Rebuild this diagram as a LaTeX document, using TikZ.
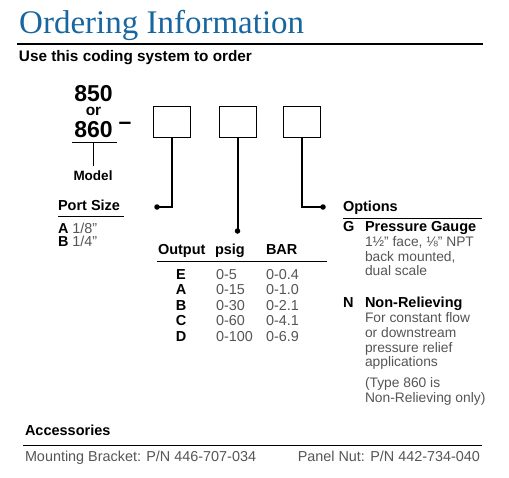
\documentclass[tikz,border=0pt]{standalone}
\usepackage{fontspec}
\setmainfont{Liberation Sans}
\newfontfamily\titlefont{Liberation Serif}
\definecolor{titleblue}{RGB}{24,102,160}
\definecolor{bodygray}{RGB}{85,85,85}
\tikzset{
  txt/.style={anchor=base west, inner sep=0, outer sep=0, text=bodygray, font=\fontsize{14.4}{16}\selectfont},
  opttxt/.style={txt, font=\fontsize{13.8}{15}\selectfont},
  hdr/.style={anchor=base west, inner sep=0, outer sep=0, text=black, font=\bfseries\fontsize{14.5}{16}\selectfont},
  big/.style={anchor=base, inner sep=0, outer sep=0, text=black, font=\bfseries\fontsize{23}{25}\selectfont},
  codebox/.style={draw, line width=1pt, minimum width=37pt, minimum height=31pt, inner sep=0},
  conn/.style={line width=2pt},
  dotc/.style={circle, fill, inner sep=0, minimum size=5.5pt},
  rulel/.style={line width=1pt},
}
\begin{document}
\begin{tikzpicture}[x=1pt,y=-1pt]
\useasboundingbox (0,0) rectangle (509,477);
% title
\node[anchor=base west, inner sep=0, text=titleblue, font=\titlefont\fontsize{33}{36}\selectfont] (title) at (19,33) {Ordering Information};
\coordinate (tl) at (17,44); \coordinate (tr) at (483,44);
\draw[line width=1.5pt] (tl) -- (tr);
\node[hdr, font=\bfseries\fontsize{15.3}{17}\selectfont] (use) at (19,61) {Use this coding system to order};
% model
\node[big] (n850) at (93.5,101) {850};
\node[big, font=\bfseries\fontsize{15.5}{17}\selectfont] (or) at (93.5,115.5) {or};
\node[big] (n860) at (93.5,137) {860};
\node[anchor=base, inner sep=0, font=\bfseries\fontsize{23}{25}\selectfont] (dash) at (125,129) {–};
\coordinate (ul) at (72,142); \coordinate (ur) at (117,142);
\draw[rulel] (ul) -- (ur);
\coordinate (mtop) at (93,142); \coordinate (mbot) at (93,166);
\draw[rulel] (mtop) -- (mbot);
\node[big, font=\bfseries\fontsize{13.5}{15}\selectfont] (model) at (93,180) {Model};
% boxes
\node[codebox] (b1) at (171.5,121.5) {};
\node[codebox] (b2) at (237.5,121.5) {};
\node[codebox] (b3) at (301.5,121.5) {};
\node[dotc] (d1) at (157,207) {};
\node[dotc] (d2) at (237.5,231) {};
\node[dotc] (d3) at (323,207) {};
\draw[conn] (b1.south) |- (d1.center);
\draw[conn] (b2.south) -- (d2.center);
\draw[conn] (b3.south) |- (d3.center);
% port size
\node[hdr] (port) at (58,210) {Port Size};
\coordinate (pl) at (58,216); \coordinate (pr) at (124,216);
\draw[rulel] (pl) -- (pr);
\node[txt] (pa) at (58,233) {{\color{black}\bfseries A} 1/8"};
\node[txt] (pb) at (58,246) {{\color{black}\bfseries B} 1/4"};
% output table
\node[hdr] (hout) at (158,254) {Output};
\node[hdr] (hpsig) at (215,254) {psig};
\node[hdr] (hbar) at (266,254) {BAR};
\coordinate (ol) at (157,261); \coordinate (or2) at (327,261);
\draw[rulel] (ol) -- (or2);
\foreach \l/\p/\b/\y [count=\i] in {E/0-5/0-0.4/279, A/0-15/0-1.0/294.5, B/0-30/0-2.1/310, C/0-60/0-4.1/325.5, D/0-100/0-6.9/341}{
  \node[hdr, anchor=base] (r\i l) at (181,\y) {\l};
  \node[txt] (r\i p) at (216,\y) {\p};
  \node[txt] (r\i b) at (266,\y) {\b};
}
% options
\node[hdr] (opt) at (343,211) {Options};
\coordinate (opl) at (343,218); \coordinate (opr) at (482,218);
\draw[rulel] (opl) -- (opr);
\node[hdr] (g) at (343,231) {G};
\node[hdr] (gt) at (365,231) {Pressure Gauge};
\node[opttxt] (g1) at (365,246.5) {1½" face, ⅛" NPT};
\node[opttxt] (g2) at (365,261) {back mounted,};
\node[opttxt] (g3) at (365,275.5) {dual scale};
\node[hdr] (n) at (343,307) {N};
\node[hdr] (nt) at (365,307) {Non-Relieving};
\node[opttxt] (n1) at (365,322.5) {For constant flow};
\node[opttxt] (n2) at (365,337.5) {or downstream};
\node[opttxt] (n3) at (365,352) {pressure relief};
\node[opttxt] (n4) at (365,366.5) {applications};
\node[opttxt] (n5) at (365,387) {(Type 860 is};
\node[opttxt] (n6) at (365,402) {Non-Relieving only)};
% accessories
\node[hdr] (acc) at (25,435) {Accessories};
\coordinate (al) at (23,445); \coordinate (ar) at (482,445);
\draw[rulel] (al) -- (ar);
\node[txt] (mb) at (25,461) {Mounting Bracket: P/N 446-707-034};
\node[txt, anchor=base east] (pn) at (480,461) {Panel Nut: P/N 442-734-040};
\end{tikzpicture}
\end{document}
